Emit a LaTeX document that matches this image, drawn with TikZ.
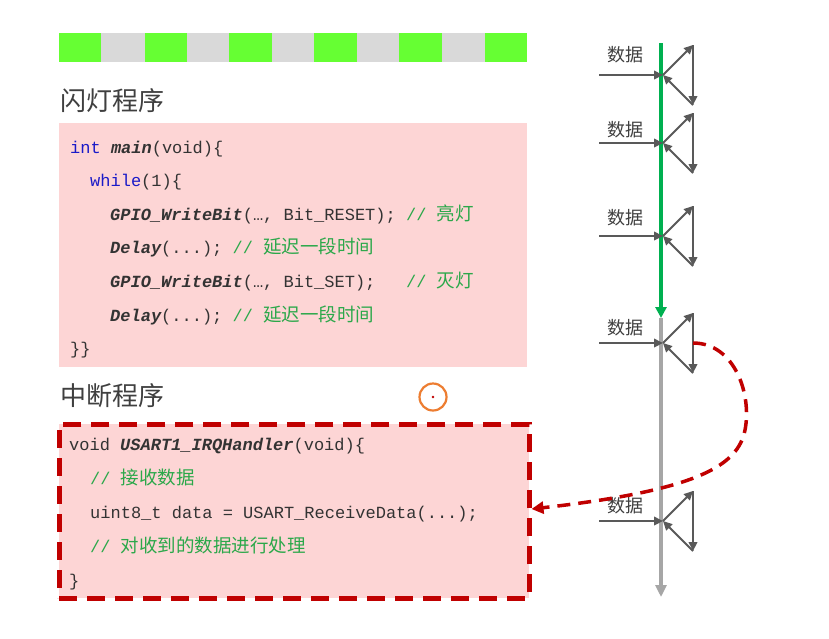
\documentclass[tikz,border=0pt]{standalone}
\usepackage{fontspec}
\setmonofont{Liberation Mono}
\newfontfamily\cjk{Noto Sans CJK SC}
\usetikzlibrary{arrows.meta}
\definecolor{boxpink}{HTML}{FDD5D5}
\definecolor{kwblue}{HTML}{1A1AC8}
\definecolor{codegray}{HTML}{333333}
\definecolor{cmtgreen}{HTML}{2BA84A}
\definecolor{titlegray}{HTML}{3F3F3F}
\definecolor{darkred}{HTML}{C00000}
\definecolor{barGreen}{HTML}{66FF33}
\definecolor{barGray}{HTML}{D9D9D9}
\definecolor{lineGreen}{HTML}{00B050}
\definecolor{lineGray}{HTML}{A6A6A6}
\definecolor{triGray}{HTML}{595959}
\definecolor{ringOrange}{HTML}{ED7D31}
\newcommand\kw[1]{\textcolor{kwblue}{#1}}
\newcommand\fnm[1]{{\bfseries\itshape #1}}
\newcommand\cmnt[1]{{\color{cmtgreen}//\ {\cjk\fontsize{18.5}{20}\selectfont #1}}}
\tikzset{
  codeline/.style={anchor=base west, inner sep=0pt, text=codegray, font=\ttfamily\fontsize{17}{20}\selectfont},
  titletext/.style={anchor=base west, inner sep=0pt, text=titlegray, font=\cjk\fontsize{26}{30}\selectfont},
  datalabel/.style={inner sep=0pt, text=titlegray, font=\cjk\fontsize{18}{20}\selectfont},
  triarrow/.style={draw=triGray, line width=2pt, -{Triangle[length=9pt,width=8.5pt]}},
}
\begin{document}
\begin{tikzpicture}[x=1pt,y=-1pt]
\useasboundingbox (0,0) rectangle (829,638);
\fill[white] (0,0) rectangle (829,638);
% top bar
\fill[barGray] (59,33) rectangle (527,62);
\foreach \a/\b in {59/101,145/187,229/272,314/357,399/442,485/527}
  \fill[barGreen] (\a,33) rectangle (\b,62);
% titles
\node[titletext] (title1) at (60,110) {闪灯程序};
\node[titletext] (title2) at (60,405) {中断程序};
% boxes
\node[fill=boxpink, draw=none, minimum width=468pt, minimum height=244pt, anchor=north west, inner sep=0pt] (box1) at (59,123) {};
\node[fill=boxpink, draw=darkred, line width=4.5pt, dash pattern=on 18pt off 10pt, minimum width=470pt, minimum height=174pt, anchor=north west, inner sep=0pt] (box2) at (57,422) {};
% code box 1
\node[codeline] (c1) at (70,153) {\kw{int} \fnm{main}(void)\{};
\node[codeline] (c2) at (90,186) {\kw{while}(1)\{};
\node[codeline] (c3) at (110,220) {\fnm{GPIO\_WriteBit}(…, Bit\_RESET); \cmnt{亮灯}};
\node[codeline] (c4) at (110,253) {\fnm{Delay}(...); \cmnt{延迟一段时间}};
\node[codeline] (c5) at (110,287) {\fnm{GPIO\_WriteBit}(…, Bit\_SET);\ \ \ \cmnt{灭灯}};
\node[codeline] (c6) at (110,321) {\fnm{Delay}(...); \cmnt{延迟一段时间}};
\node[codeline] (c7) at (70,354) {\}\}};
% code box 2
\node[codeline] (d1) at (69,450) {void \fnm{USART1\_IRQHandler}(void)\{};
\node[codeline] (d2) at (90,484) {\cmnt{接收数据}};
\node[codeline] (d3) at (90,518) {uint8\_t data = USART\_ReceiveData(...);};
\node[codeline] (d4) at (90,552) {\cmnt{对收到的数据进行处理}};
\node[codeline] (d5) at (69,586) {\}};
% orange ring
\node[circle, draw=ringOrange, line width=2.2pt, minimum size=27pt, inner sep=0pt] (ring) at (433,397) {};
\fill[darkred] (ring.center) circle (1.3);
% timeline
\coordinate (gtop) at (661,43);
\coordinate (gmid) at (661,318);
\coordinate (gbot) at (661,597);
\draw[lineGray, line width=3.5pt, -{Triangle[length=12pt,width=11pt]}] (gmid) -- (gbot);
\draw[lineGreen, line width=3.5pt, -{Triangle[length=11pt,width=11pt]}] (gtop) -- (gmid);
% data interrupts
\foreach \i/\y/\ly in {1/75/55,2/143/130,3/236/218,4/343/328,5/521/506}{
  \coordinate (j\i) at (663,\y);
  \coordinate (t\i) at (693,\y-30);
  \coordinate (b\i) at (693,\y+30);
  \coordinate (s\i) at (599,\y);
  \node[datalabel] (lab\i) at (625,\ly) {数据};
  \draw[triarrow] (s\i) -- (j\i);
  \draw[triarrow] (j\i) -- (t\i);
  \draw[triarrow] (t\i) -- (b\i);
  \draw[triarrow] (b\i) -- (j\i);
}
% interrupt jump
\coordinate (jumpstart) at (693,343);
\draw[darkred, line width=3.5pt, dash pattern=on 13pt off 8pt, -{Triangle[length=12pt,width=12pt]}]
  (jumpstart) .. controls (735,343) and (752,395) .. (745,430)
  .. controls (738,465) and (700,490) .. (box2.east |- 0,509);
\end{tikzpicture}
\end{document}
